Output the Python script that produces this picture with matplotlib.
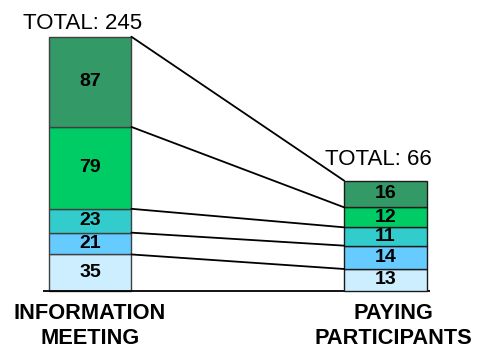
import numpy as np
import matplotlib
matplotlib.use("Agg")
from matplotlib import pyplot as plt
from matplotlib.patches import ConnectionPatch

plt.rcParams['font.family'] = ['Liberation Sans', 'DejaVu Sans']

# data (segments listed bottom to top)
stages = ['INFORMATION\nMEETING', 'PAYING\nPARTICIPANTS']
meeting = [35, 21, 23, 79, 87]
paying = [13, 14, 11, 12, 16]
colors = ['#cceeff', '#66ccff', '#33cccc', '#00cc66', '#339966']

fig = plt.figure(figsize=(4.79, 3.49), dpi=100)
ax = fig.add_axes([0, 0, 1, 1])
ax2 = ax.twinx()  # right bar has its own scale

bar_width = 0.28
ax.set_xlim(-0.3046, 1.3164)
ax.set_ylim(-56.2, 280.4)
ax2.set_ylim(-35.0, 174.4)

def stack(axis, x, values, edge):
    bottom = 0
    tops = []
    for v, c in zip(values, colors):
        bars = axis.bar(x, v, bar_width, bottom=bottom, color=c, edgecolor=edge, linewidth=1.0, zorder=2)
        axis.bar_label(bars, labels=[str(v)], label_type='center', fontsize=14, fontweight='bold', zorder=3)
        bottom += v
        tops.append(bottom)
    return tops

tops_left = stack(ax, 0, meeting, '#404040')
tops_right = stack(ax2, 1, paying, '#1a1a1a')

# lines joining the segment tops
for ya, yb in zip(tops_left, tops_right):
    con = ConnectionPatch(xyA=(bar_width / 2, ya), coordsA=ax.transData,
                          xyB=(1 - bar_width / 2, yb), coordsB=ax2.transData,
                          color='black', linewidth=1.3, zorder=1)
    fig.add_artist(con)

# baseline
ax.hlines(0, -0.159, 1.1506, color='black', linewidth=1.3, zorder=4)

# totals
ax.annotate('TOTAL: %d' % sum(meeting), xy=(0, sum(meeting)), xytext=(-7, 8),
            textcoords='offset pixels', ha='center', va='baseline', fontsize=16)
ax2.annotate('TOTAL: %d' % sum(paying), xy=(1, sum(paying)), xytext=(-7, 16),
             textcoords='offset pixels', ha='center', va='baseline', fontsize=16)

# category labels
for x, name, dx in zip([0, 1], stages, [0, 8]):
    ax.annotate(name, xy=(x, 0), xytext=(dx, -12), textcoords='offset pixels',
                ha='center', va='top', fontsize=15.7, fontweight='bold', linespacing=1.25)

ax.axis('off')
ax2.axis('off')
fig.savefig('out.png', dpi=100)
